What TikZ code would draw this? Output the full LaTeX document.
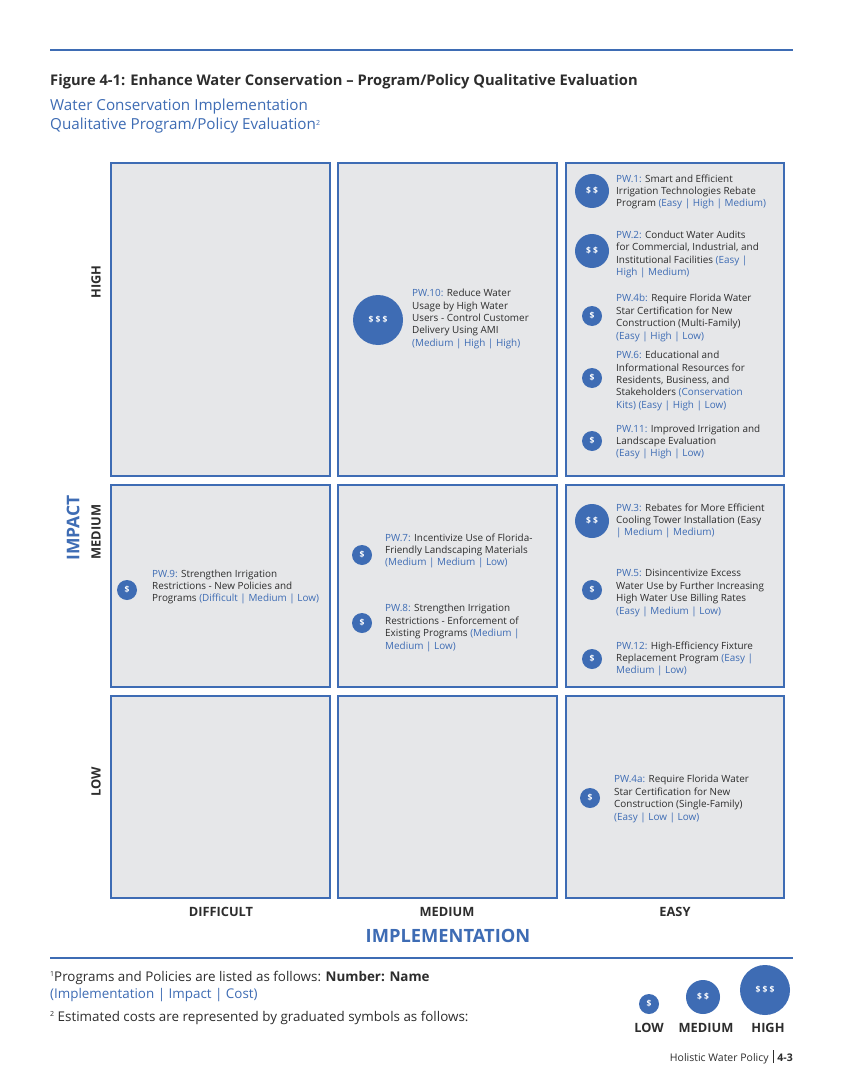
\documentclass[tikz,border=0pt]{standalone}
\usepackage{fontspec}
\setmainfont{Open Sans}
\definecolor{pblue}{RGB}{62,108,180}
\definecolor{cellgray}{RGB}{230,231,233}
\definecolor{txt}{RGB}{45,45,45}
\tikzset{
  cell/.style={draw=pblue, fill=cellgray, line width=1.3pt},
  rule/.style={draw=pblue, line width=1.2pt},
  cost/.style={circle, fill=pblue, inner sep=0pt, text=white, font=\fontsize{8.5}{9}\selectfont\bfseries},
  costS/.style={cost, minimum size=20pt},
  costM/.style={cost, minimum size=34pt},
  costL/.style={cost, minimum size=50pt},
  item/.style={anchor=west, align=left, inner sep=0pt, text=txt, font=\fontsize{9.9}{12.4}\selectfont},
  axis/.style={text=txt, font=\fontsize{12.8}{14}\selectfont\bfseries},
  bigaxis/.style={text=pblue, font=\fontsize{17.5}{20}\selectfont\bfseries},
}
\newcommand{\pw}[1]{\textcolor{pblue}{#1}}
\newcommand{\fnmark}[1]{\raisebox{4.5pt}{\fontsize{7}{7}\selectfont #1}}
\begin{document}
\begin{tikzpicture}[x=1pt,y=-1pt]
\useasboundingbox (0,0) rectangle (842,1091);
\fill[white] (0,0) rectangle (842,1091);
% top rule
\draw[rule] (50,50) -- (793,50);
\node[anchor=base west, inner sep=0pt, text=txt, font=\fontsize{14.7}{16}\selectfont\bfseries] (title) at (50,86) {Figure 4-1: Enhance Water Conservation -- Program/Policy Qualitative Evaluation};
\node[anchor=north west, align=left, inner sep=0pt, text=pblue, font=\fontsize{15.2}{19}\selectfont] (sub) at (50,99) {Water Conservation Implementation\\Qualitative Program/Policy Evaluation\fnmark{2}};
% cells
\foreach \c/\xa/\xb in {1/111/330,2/338/557,3/566/784}{
  \foreach \r/\ya/\yb in {1/163/476,2/485/687,3/696/898}{
    \draw[cell] (\xa,\ya) rectangle (\xb,\yb);
  }
}
% axis labels
\node[axis, rotate=90] (lhigh) at (96,282) {HIGH};
\node[axis, rotate=90] (lmed) at (96,532) {MEDIUM};
\node[axis, rotate=90] (llow) at (96,782) {LOW};
\node[bigaxis, rotate=90] (limpact) at (73,528) {IMPACT};
\node[axis] (ldiff) at (221,912) {DIFFICULT};
\node[axis] (lmedx) at (447,912) {MEDIUM};
\node[axis] (leasy) at (675,912) {EASY};
\node[bigaxis, font=\fontsize{18.3}{20}\selectfont\bfseries] (limpl) at (448,936) {IMPLEMENTATION};
% items: easy/high
\node[costM] (c1) at (592,191) {\$ \$};
\node[item] (t1) at (616,192) {\pw{PW.1:} Smart and Efficient\\Irrigation Technologies Rebate\\Program \pw{(Easy | High | Medium)}};
\node[costM] (c2) at (592,251) {\$ \$};
\node[item] (t2) at (616,254.5) {\pw{PW.2:} Conduct Water Audits\\for Commercial, Industrial, and\\Institutional Facilities \pw{(Easy |}\\\pw{High | Medium)}};
\node[costS] (c4b) at (592,316) {\$};
\node[item] (t4b) at (616,318) {\pw{PW.4b:} Require Florida Water\\Star Certification for New\\Construction (Multi-Family)\\\pw{(Easy | High | Low)}};
\node[costS] (c6) at (592,378) {\$};
\node[item] (t6) at (616,381) {\pw{PW.6:} Educational  and\\Informational Resources for\\Residents, Business,  and\\Stakeholders \pw{(Conservation}\\\pw{Kits) (Easy | High | Low)}};
\node[costS] (c11) at (592,441) {\$};
\node[item] (t11) at (616,442) {\pw{PW.11:} Improved Irrigation and\\Landscape Evaluation\\\pw{(Easy | High | Low)}};
% medium/high
\node[costL] (c10) at (378,320) {\$ \$ \$};
\node[item] (t10) at (412,319) {\pw{PW.10:} Reduce Water\\Usage by High Water\\Users - Control Customer\\Delivery Using AMI\\\pw{(Medium | High | High)}};
% easy/medium
\node[costM] (c3) at (592,521) {\$ \$};
\node[item] (t3) at (616,521) {\pw{PW.3:} Rebates for More Efficient\\Cooling Tower Installation (Easy\\\pw{| Medium | Medium)}};
\node[costS] (c5) at (592,590) {\$};
\node[item] (t5) at (616,593) {\pw{PW.5:} Disincentivize Excess\\Water Use by Further Increasing\\High Water Use Billing Rates\\\pw{(Easy | Medium | Low)}};
\node[costS] (c12) at (592,659) {\$};
\node[item] (t12) at (616,659) {\pw{PW.12:} High-Efficiency Fixture\\Replacement Program \pw{(Easy |}\\\pw{Medium | Low)}};
% medium/medium
\node[costS] (c7) at (362,555) {\$};
\node[item] (t7) at (385,551) {\pw{PW.7:} Incentivize Use of Florida-\\Friendly Landscaping Materials\\\pw{(Medium | Medium | Low)}};
\node[costS] (c8) at (362,623) {\$};
\node[item] (t8) at (385,628) {\pw{PW.8:} Strengthen Irrigation\\Restrictions - Enforcement of\\Existing Programs \pw{(Medium |}\\\pw{Medium | Low)}};
% difficult/medium
\node[costS] (c9) at (127,590) {\$};
\node[item] (t9) at (152,587) {\pw{PW.9:} Strengthen Irrigation\\Restrictions - New Policies and\\Programs \pw{(Difficult | Medium | Low)}};
% easy/low
\node[costS] (c4a) at (590,798) {\$};
\node[item] (t4a) at (614,799) {\pw{PW.4a:} Require Florida Water\\Star Certification for New\\Construction (Single-Family)\\\pw{(Easy | Low | Low)}};
% bottom rule
\draw[rule] (50,958) -- (793,958);
\node[anchor=base west, inner sep=0pt, text=txt, font=\fontsize{13.4}{16}\selectfont] (fn1) at (50,981) {\fnmark{1}Programs and Policies are listed as follows: \textbf{Number: Name}};
\node[anchor=base west, inner sep=0pt, text=pblue, font=\fontsize{13.4}{16}\selectfont] (fn1b) at (50,998) {(Implementation | Impact | Cost)};
\node[anchor=base west, inner sep=0pt, text=txt, font=\fontsize{13.4}{16}\selectfont] (fn2) at (50,1021) {\fnmark{2} Estimated costs are represented by graduated symbols as follows:};
% legend
\node[costS] (lg1) at (649,1004) {\$};
\node[costM] (lg2) at (703,997) {\$ \$};
\node[costL] (lg3) at (765,990) {\$ \$ \$};
\node[axis] (lgl) at (649,1028) {LOW};
\node[axis] (lgm) at (706,1028) {MEDIUM};
\node[axis] (lgh) at (768,1028) {HIGH};
% footer
\node[anchor=base east, inner sep=0pt, text=txt, font=\fontsize{10.5}{12}\selectfont] (foot) at (793,1061) {Holistic Water Policy\hspace{4pt}\rule[-2pt]{0.8pt}{13pt}\hspace{4pt}\textbf{4-3}};
\end{tikzpicture}
\end{document}
